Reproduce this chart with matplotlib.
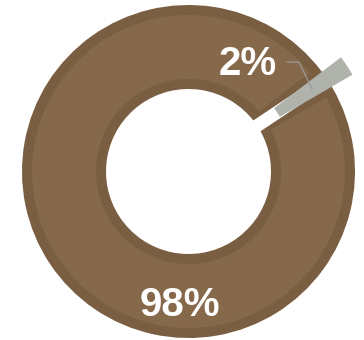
import numpy as np
import matplotlib
matplotlib.use("Agg")
import matplotlib.pyplot as plt

# data
labels = ["2%", "98%"]
values = [2, 98]
colors = ["#b0b3ac", "#86694a"]
edge_colors = ["none", "#7a5e41"]

W, H = 364, 340
cx, cy = 188.5, 171.5       # centre of the ring in pixels
r_out, r_in = 166.5, 82.5   # visible radii
lw_px = 10                  # dark rim of the big slice
start = 30.1
gap = 24

fig = plt.figure(figsize=(W / 100, H / 100), dpi=100)
ax = fig.add_axes([0, 0, 1, 1])

wedges, _ = ax.pie(values, colors=colors, startangle=start, counterclock=True,
                   radius=r_out, explode=[gap, 0],
                   wedgeprops=dict(width=r_out - r_in, linewidth=0))

# big slice: shrink geometry by half the stroke so the rim stays inside
big = wedges[1]
big.set_radius(r_out - lw_px / 2)
big.set_width(r_out - r_in - lw_px)
big.set_edgecolor(edge_colors[1])
big.set_linewidth(lw_px * 0.72)
big.set_joinstyle("miter")

# pie() resets the limits, so set them afterwards
ax.set_xlim(-cx, W - cx)
ax.set_ylim(-(H - cy), cy)
ax.set_aspect("equal")
ax.axis("off")

small = wedges[0]
small.set_zorder(3)
mid = np.deg2rad((small.theta1 + small.theta2) / 2)

# white slot left behind by the pulled-out slice
ax.plot([0, 200 * np.cos(mid)], [0, 200 * np.sin(mid)], color="white",
        lw=13 * 0.72, solid_capstyle="butt", zorder=2)

# leader line from the small slice to its label
rr = (r_out + r_in) / 2
px, py = small.center[0] + rr * np.cos(mid), small.center[1] + rr * np.sin(mid)
ax.plot([px - 25, px - 13, px], [py + 27, py + 27, py], color="#9a9a9a",
        lw=0.9, zorder=4)

font = dict(color="white", fontsize=29, fontweight="bold",
            family="Liberation Sans", ha="center", va="center", zorder=5)
ax.text(px - 64, py + 25, labels[0], **font)
ax.text(-8.5, -133, labels[1], **font)

fig.savefig("out.png", dpi=100)
